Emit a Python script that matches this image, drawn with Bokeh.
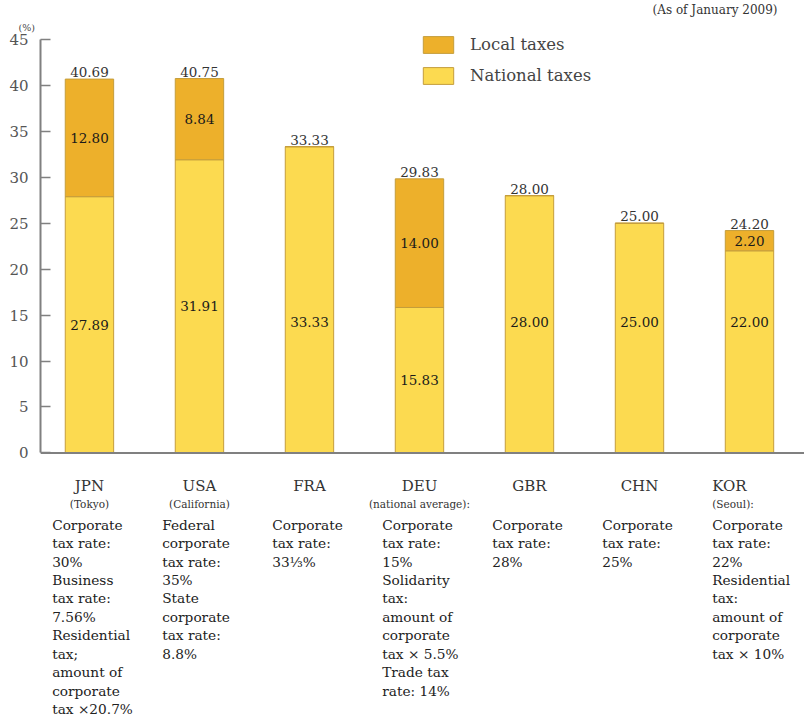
from bokeh.plotting import figure
from bokeh.models import (ColumnDataSource, FixedTicker, LinearAxis, Span, Title,
                          Legend, LegendItem, Range1d)
from bokeh.core.properties import value
from bokeh.embed import file_html
from bokeh.resources import INLINE

# ---------------- data ----------------
countries = ["JPN", "USA", "FRA", "DEU", "GBR", "CHN", "KOR"]
subnames = ["(Tokyo)", "(California)", "", "(national average):", "", "", "(Seoul):"]
national = [27.89, 31.91, 33.33, 15.83, 28.00, 25.00, 22.00]
local = [12.80, 8.84, 0.0, 14.00, 0.0, 0.0, 2.20]
totals = [40.69, 40.75, 33.33, 29.83, 28.00, 25.00, 24.20]
notes = [
    "Corporate\ntax rate:\n30%\nBusiness\ntax rate:\n7.56%\nResidential\ntax;\namount of\ncorporate\ntax \u00d720.7%",
    "Federal\ncorporate\ntax rate:\n35%\nState\ncorporate\ntax rate:\n8.8%",
    "Corporate\ntax rate:\n33\u2153%",
    "Corporate\ntax rate:\n15%\nSolidarity\ntax:\namount of\ncorporate\ntax \u00d7 5.5%\nTrade tax\nrate: 14%",
    "Corporate\ntax rate:\n28%",
    "Corporate\ntax rate:\n25%",
    "Corporate\ntax rate:\n22%\nResidential\ntax:\namount of\ncorporate\ntax \u00d7 10%",
]
y_ticks = [0, 5, 10, 15, 20, 25, 30, 35, 40, 45]
legend_labels = ["Local taxes", "National taxes"]
unit_label = "(%)"
date_note = "(As of January 2009)"

# ---------------- styling ----------------
FONT = "DejaVu Serif"
C_NAT = "#FCDA50"
C_LOC = "#EDB02B"
C_EDGE = "#C49D3C"
GRAY = "#808080"

xs = list(range(len(countries)))
src = ColumnDataSource(dict(x=xs, national=national, local=local, total=totals,
                            total_txt=["%.2f" % t for t in totals]))

p = figure(width=804, height=720, x_range=Range1d(-0.445, 6.50),
           y_range=Range1d(-29.13, 45.435), output_backend="svg",
           toolbar_location=None, x_axis_location=None, y_axis_location=None,
           min_border_left=40, min_border_right=0, min_border_top=32,
           min_border_bottom=0, outline_line_color=None)
p.xgrid.visible = False
p.ygrid.visible = False

# titles above the frame: unit label, then date note
p.add_layout(Title(text=unit_label, align="left", offset=-22, standoff=6,
                   text_font=FONT, text_font_size="9.5px", text_color="#444444",
                   text_font_style="normal"), "above")
p.add_layout(Title(text=date_note, align="right", offset=27, standoff=0,
                   text_font=FONT, text_font_size="12px", text_color="#333333",
                   text_font_style="normal"), "above")

rs = p.vbar_stack(["national", "local"], x="x", width=0.44, source=src,
                  fill_color=[C_NAT, C_LOC], line_color=C_EDGE, line_width=1)
r_nat, r_loc = rs

# y axis
yax = LinearAxis(ticker=FixedTicker(ticks=y_ticks), bounds=(0, 45))
yax.axis_line_color = GRAY
yax.axis_line_width = 2
yax.major_tick_in = 10
yax.major_tick_out = 0
yax.major_tick_line_color = GRAY
yax.major_tick_line_width = 1.5
yax.minor_tick_line_color = None
yax.major_label_standoff = 12
yax.major_label_text_font = FONT
yax.major_label_text_font_size = "15px"
yax.major_label_text_color = "#555555"
p.add_layout(yax, "left")

# baseline
p.add_layout(Span(location=0, dimension="width", line_color=GRAY, line_width=2))

# totals above bars
p.text(x="x", y="total", text="total_txt", source=src, text_font=value(FONT),
       text_font_size="13.5px", text_color="#333333", text_align="center",
       text_baseline="bottom", y_offset=-2)

# national labels
nat_y = [n / 2 if l >= 5 else 14.2 for n, l in zip(national, local)]
p.text(x=xs, y=nat_y, text=["%.2f" % n for n in national], text_font=value(FONT),
       text_font_size="13.5px", text_color="#1a1a1a", text_align="center",
       text_baseline="middle")

# local labels
lx = [x for x, l in zip(xs, local) if l > 0]
ly = [n + l / 2 for n, l in zip(national, local) if l > 0]
lt = ["%.2f" % l for l in local if l > 0]
p.text(x=lx, y=ly, text=lt, text_font=value(FONT), text_font_size="13.5px",
       text_color="#1a1a1a", text_align="center", text_baseline="middle")

# category names and notes below the axis
aligns = ["center"] * 6 + ["left"]
name_x = [x if a == "center" else x - 0.339 for x, a in zip(xs, aligns)]
p.text(x=name_x, y=[-3.59] * 7, text=countries, text_align=aligns,
       text_font=value(FONT), text_font_size="15px", text_color="#333333",
       text_baseline="middle")
p.text(x=name_x, y=[-5.54] * 7, text=subnames, text_align=aligns,
       text_font=value(FONT), text_font_size="10.5px", text_color="#333333",
       text_baseline="middle")
p.text(x=[x - 0.339 for x in xs], y=[-6.96] * 7, text=notes, text_align="left",
       text_font=value(FONT), text_font_size="13.7px", text_color="#222222",
       text_baseline="top", text_line_height=1.151)

legend = Legend(items=[LegendItem(label=legend_labels[0], renderers=[r_loc]),
                       LegendItem(label=legend_labels[1], renderers=[r_nat])],
                location=(379, 634), glyph_width=38, glyph_height=21,
                label_standoff=13, spacing=10, padding=0, margin=0,
                border_line_color=None, background_fill_alpha=0,
                label_text_font=FONT, label_text_font_size="16.5px",
                label_text_color="#444444")
p.add_layout(legend)

open("out.html", "w").write(file_html(p, INLINE))
